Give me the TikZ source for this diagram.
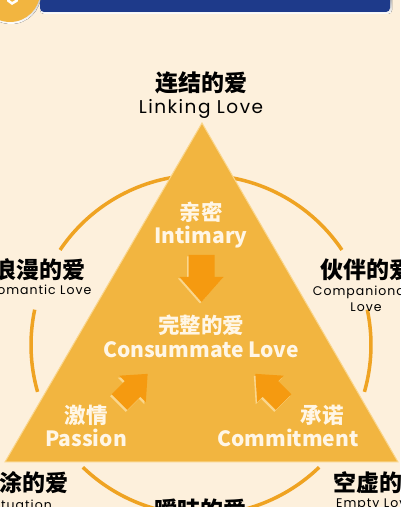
\documentclass[tikz,border=0pt]{standalone}
\usepackage{fontspec}
\usetikzlibrary{positioning}

\setmainfont{Noto Sans CJK SC}
\newfontfamily\latinfont{Poppins}[LetterSpace=8]

\definecolor{cream}{HTML}{FDF0DC}
\definecolor{gold}{HTML}{F2B540}
\definecolor{ringorange}{HTML}{EFA322}
\definecolor{deeporange}{HTML}{F59A10}
\definecolor{glow}{HTML}{FAD68C}
\definecolor{navy}{HTML}{1E3A8A}
\definecolor{paletext}{HTML}{FFF6E6}
\definecolor{shade}{HTML}{6B6257}

\begin{document}
\begin{tikzpicture}[
            x = 1pt, y = 1pt,
            ring/.style = {draw = ringorange, line width = 3.5pt},
            outer/.style = {font = \bfseries\fontsize{23}{25}\selectfont, text = black, inner sep = 0pt},
            outersub/.style = {font = \latinfont\fontsize{12.5}{16}\selectfont, text = black, inner sep = 0pt, align = center},
            innerzh/.style = {font = \bfseries\fontsize{21.5}{23}\selectfont, text = paletext, inner sep = 0pt},
            inneren/.style = {font = \bfseries\fontsize{21}{23}\selectfont, text = paletext, inner sep = 0pt},
            fatarrow/.pic = {
                \path[pic actions] (-13,23.5) -- (13,23.5) -- (13,1.5) -- (22,1.5)
                    -- (0,-23.5) -- (-22,1.5) -- (-13,1.5) -- cycle;
            }
        ]

        \useasboundingbox (0,0) rectangle (400,507);
        \clip (0,0) rectangle (400,507);
        \fill[cream] (0,0) rectangle (400,507);

        % header
        \fill[shade, rounded corners = 4pt] (40,493) rectangle (392,520);
        \fill[navy, rounded corners = 4pt] (40,495) rectangle (390,520);
        \fill[shade] (11,513) circle (30);
        \fill[gold] (10,515) circle (30);
        \draw[white, line width = 2.5pt, line cap = round] (8,506.5) -- (12,503.5) -- (17,506.5);

        % ring
        \draw[ring] (201,162) ++(34:170) arc (34:146:170);
        \draw[ring] (201,162) ++(168:170) arc (168:196:170);
        \draw[ring] (201,162) ++(-16:170) arc (-16:12:170);
        \draw[ring] (201,162) ++(226:170) arc (226:260:170);
        \draw[ring] (201,162) ++(280:170) arc (280:314:170);

        % triangle
        \coordinate (apex) at (202,384);
        \coordinate (baseleft) at (5,45);
        \coordinate (baseright) at (398,45);
        \fill[gold, draw = glow, line width = 1pt] (apex) -- (baseright) -- (baseleft) -- cycle;

        \pic[fill = glow] at (200,227) {fatarrow};
        \pic[fill = deeporange] at (201.5,228.5) {fatarrow};
        \pic[fill = glow, rotate = 135, scale = 0.85] at (132,117) {fatarrow};
        \pic[fill = deeporange, rotate = 135, scale = 0.85] at (133.5,119) {fatarrow};
        \pic[fill = glow, rotate = 225, scale = 0.85] at (268,117) {fatarrow};
        \pic[fill = deeporange, rotate = 225, scale = 0.85] at (269.5,119) {fatarrow};

        \node[innerzh] (intzh) at (201,295) {亲密};
        \node[inneren] (inten) at (201,270) {Intimary};
        \node[innerzh] (conzh) at (201,182) {完整的爱};
        \node[inneren] (conen) at (201,157) {Consummate Love};
        \node[innerzh] (paszh) at (86,92) {激情};
        \node[inneren] (pasen) at (86,69) {Passion};
        \node[innerzh] (comzh) at (322,92) {承诺};
        \node[inneren] (comen) at (288,69) {Commitment};

        \node[outer] (linkzh) at (201,424) {连结的爱};
        \node[outersub, font = \latinfont\fontsize{18.5}{20}\selectfont] (linken) [below = 5pt of linkzh] {Linking Love};
        \node[outer] (romzh) at (40,237) {浪漫的爱};
        \node[outersub] (romen) at (40,217) {Romantic Love};
        \node[outer] (compzh) at (366,237) {伙伴的爱};
        \node[outersub] (compen) at (366,208.5) {Companionate\\Love};
        \node[outer, anchor = east] (infzh) at (69,24) {糊涂的爱};
        \node[outersub, anchor = east] (infen) at (52,2) {Infatuation};
        \node[outer, anchor = west] (empzh) at (333,24) {空虚的爱};
        \node[outersub, anchor = west] (empen) at (336,2) {Empty Love};
        \node[outer] (ambzh) at (200,-3) {暧昧的爱};

    \end{tikzpicture}
\end{document}
